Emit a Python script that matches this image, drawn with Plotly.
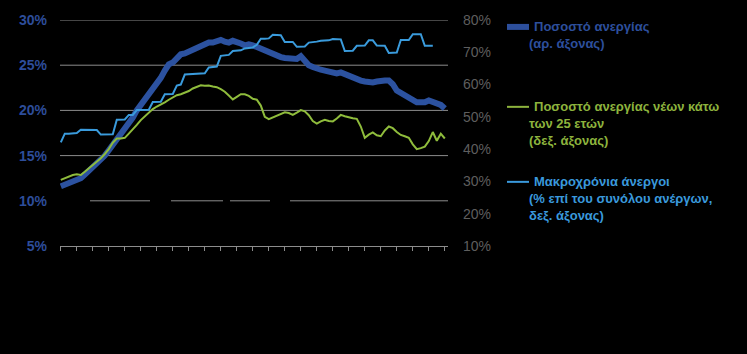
import plotly.graph_objects as go

# ---------------- data (monthly observations, no x labels in the original) -------------
months = list(range(97))

unemployment = [
    11.6, 11.8, 12.0, 12.2, 12.3, 12.5, 12.9, 13.3, 13.8, 14.2,
    14.6, 15.0, 15.6, 16.2, 16.7, 17.3, 17.9, 18.5, 19.2, 20.0,
    20.6, 21.1, 21.7, 22.3, 23.0, 23.6, 24.4, 25.1, 25.3, 25.8,
    26.2, 26.3, 26.5, 26.7, 26.9, 27.0, 27.3, 27.5, 27.5, 27.7,
    27.8, 27.6, 27.5, 27.7, 27.6, 27.4, 27.2, 27.3, 27.2, 27.0,
    26.8, 26.6, 26.4, 26.2, 26.0, 25.9, 25.8, 25.8, 25.7, 25.7,
    26.0, 25.4, 25.0, 24.8, 24.6, 24.5, 24.4, 24.3, 24.2, 24.1,
    24.2, 24.0, 23.8, 23.6, 23.4, 23.3, 23.2, 23.1, 23.1, 23.2,
    23.3, 23.3, 23.3, 22.9, 22.2, 21.9, 21.6, 21.4, 21.1, 20.9,
    20.9, 20.9, 21.1, 20.9, 20.7, 20.6, 20.2,
]

youth = [
    30.5, 31.0, 31.5, 32.0, 32.2, 32.0, 33.0, 34.0, 35.0, 36.2,
    37.2, 38.5, 40.0, 42.0, 43.3, 43.3, 43.5, 44.8, 46.0, 47.5,
    49.0, 50.2, 51.5, 52.4, 53.2, 53.8, 54.5, 55.3, 56.0, 56.7,
    57.0, 57.4, 58.0, 58.8, 59.4, 59.8, 59.6, 59.7, 59.4, 59.2,
    58.6, 57.8, 56.6, 55.4, 56.2, 57.0, 57.0, 56.5, 55.6, 55.3,
    53.5, 50.0, 49.3, 49.8, 50.5, 50.9, 51.4, 51.2, 50.6, 51.3,
    52.1, 51.7, 50.5, 48.7, 47.9, 48.6, 49.1, 48.7, 48.6, 49.5,
    50.6, 50.2, 49.8, 49.6, 49.4, 47.0, 43.5, 44.5, 45.2, 44.3,
    44.0, 45.8, 47.0, 46.5, 45.3, 44.4, 44.0, 43.5, 41.5, 40.0,
    40.3, 40.8, 42.5, 45.3, 42.6, 44.8, 43.3,
]

long_term = [
    42.1, 44.8, 44.8, 44.9, 45.0, 46.0, 46.0, 46.0, 45.9, 45.9,
    44.5, 44.5, 44.5, 44.6, 49.1, 49.1, 49.2, 50.6, 50.6, 52.1,
    52.1, 52.1, 52.2, 54.6, 54.6, 54.7, 57.0, 57.0, 57.1, 59.7,
    60.0, 63.1, 63.2, 63.2, 63.3, 63.4, 63.5, 65.3, 65.5, 65.6,
    68.9, 69.0, 69.2, 70.4, 70.5, 70.6, 71.2, 71.4, 71.5, 72.3,
    74.2, 74.2, 74.3, 75.4, 75.4, 75.3, 73.2, 73.2, 73.2, 71.7,
    71.7, 71.8, 73.0, 73.1, 73.3, 73.6, 73.6, 73.7, 74.1, 74.1,
    74.0, 70.4, 70.4, 70.5, 72.0, 72.0, 72.1, 73.7, 73.7, 72.1,
    72.0, 72.0, 69.8, 69.8, 69.9, 73.8, 73.8, 73.8, 75.6, 75.6,
    75.6, 72.0, 72.0, 72.0, None, None, None,
]

left_ticks = [5, 10, 15, 20, 25, 30]
right_ticks = [10, 20, 30, 40, 50, 60, 70, 80]

legend_entries = [
    (["Ποσοστό ανεργίας", "(αρ. άξονας)"], "#2d4f9c"),
    (["Ποσοστό ανεργίας νέων κάτω", "των 25 ετών", "(δεξ. άξονας)"], "#8db33d"),
    (["Μακροχρόνια άνεργοι", "(% επί του συνόλου ανέργων,", "δεξ. άξονας)"], "#3a99dc"),
]

# ---------------- layout geometry ----------------
W, H = 747, 354
L, R, T, B = 60, 299, 17, 108
PW = W - L - R
PH = H - T - B


def px(x):
    return (x - L) / PW


def py(y):
    return (H - B - y) / PH


DARK = "#2c52a0"
GREEN = "#8fbc3c"
LIGHT = "#3a9bdc"

fig = go.Figure()
fig.add_trace(go.Scatter(x=months, y=unemployment, mode="lines",
                         line=dict(color=DARK, width=6), yaxis="y", showlegend=False))
fig.add_trace(go.Scatter(x=months, y=youth, mode="lines",
                         line=dict(color=GREEN, width=2), yaxis="y2", showlegend=False))
fig.add_trace(go.Scatter(x=months, y=long_term, mode="lines",
                         line=dict(color=LIGHT, width=2), yaxis="y2", showlegend=False))

shapes = []
GRID = "#8c8c8c"
for v in [15, 20, 25, 30]:
    shapes.append(dict(type="line", xref="paper", yref="y", x0=0, x1=1, y0=v, y1=v,
                       line=dict(color=GRID, width=1), layer="below"))
# the 10% line is broken into pieces in the original
for a, b in [(90, 150), (171, 223), (230, 270), (290, 448)]:
    shapes.append(dict(type="line", xref="paper", yref="y", x0=px(a), x1=px(b), y0=10, y1=10,
                       line=dict(color=GRID, width=1), layer="below"))

annotations = []
starts = [24, 105, 181]
spacing = 17
sample_w = [6, 2, 2]
for (lines, col), y0, sw in zip(legend_entries, starts, sample_w):
    shapes.append(dict(type="line", xref="paper", yref="paper",
                       x0=px(507), x1=px(529), y0=py(y0), y1=py(y0),
                       line=dict(color=col, width=sw)))
    for i, t in enumerate(lines):
        annotations.append(dict(xref="paper", yref="paper", x=px(532 if i == 0 else 527),
                                y=py(y0 + i * spacing), text=t, showarrow=False,
                                xanchor="left", yanchor="middle",
                                font=dict(family="Arial", size=13, color=col, weight="bold")))

fig.update_layout(
    width=W, height=H,
    margin=dict(l=L, r=R, t=T, b=B),
    paper_bgcolor="black", plot_bgcolor="black",
    showlegend=False,
    shapes=shapes,
    annotations=annotations,
    xaxis=dict(range=[-0.2, 96.8], showgrid=False, zeroline=False,
               showline=True, linecolor=GRID, linewidth=1,
               ticks="outside", ticklen=4, tickcolor=GRID, tickwidth=1,
               tick0=0, dtick=4, showticklabels=False),
    yaxis=dict(range=[5, 30], tickvals=left_ticks,
               ticktext=[f"{v}%" for v in left_ticks],
               showgrid=False, zeroline=False, showline=False,
               ticks="", ticklabelstandoff=12,
               tickfont=dict(family="Arial", size=14, color="#2d4d9a", weight="bold")),
    yaxis2=dict(range=[10, 80], tickvals=right_ticks,
                ticktext=[f"{v}%" for v in right_ticks],
                overlaying="y", side="right",
                showgrid=False, zeroline=False, showline=False,
                ticks="", ticklabelstandoff=14,
                tickfont=dict(family="Arial", size=14, color="#5e5e5e")),
)

fig.write_html("out.html")
